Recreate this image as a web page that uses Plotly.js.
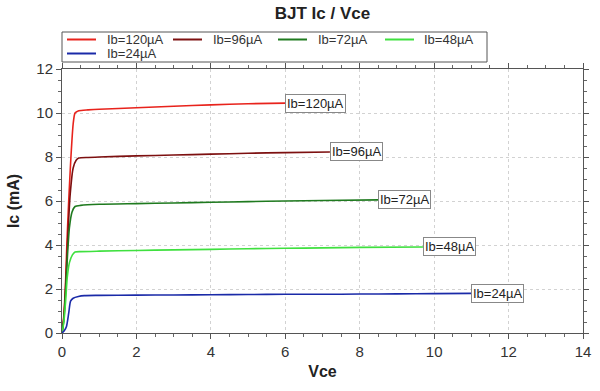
<!DOCTYPE html>
<html><head><meta charset="utf-8">
<script src="https://cdn.plot.ly/plotly-3.0.1.min.js"></script>
<style>body{margin:0;background:#fff}#chart{width:600px;height:391px}</style>
</head><body><div id="chart"></div>
<script>
const seriesNames = ["Ib=120µA", "Ib=96µA", "Ib=72µA", "Ib=48µA", "Ib=24µA"];
const colors = ["#e8231c", "#7d1010", "#1f7a1f", "#3fe03f", "#1a2aa8"];

const vce120 = [0, 0.05, 0.1, 0.13, 0.18, 0.24, 0.3, 0.35, 0.45, 0.7, 1, 2, 3, 4, 5, 6];
const ic120  = [0, 0.8, 2.5, 4.0, 6.0, 8.0, 9.5, 10.0, 10.1, 10.14, 10.17, 10.24, 10.31, 10.37, 10.42, 10.45];

const vce96 = [0, 0.05, 0.1, 0.16, 0.22, 0.3, 0.38, 0.45, 0.7, 1, 2, 3, 4, 5, 6, 7.2];
const ic96  = [0, 0.7, 2.2, 4.5, 6.3, 7.5, 7.85, 7.95, 7.98, 8.0, 8.05, 8.09, 8.13, 8.17, 8.2, 8.23];

const vce72 = [0, 0.05, 0.1, 0.15, 0.2, 0.27, 0.35, 0.5, 1, 2, 3, 4, 5, 6, 7, 8.5];
const ic72  = [0, 0.6, 2.0, 3.6, 4.8, 5.5, 5.75, 5.8, 5.85, 5.88, 5.91, 5.94, 5.97, 6.0, 6.02, 6.05];

const vce48 = [0, 0.05, 0.1, 0.14, 0.2, 0.28, 0.35, 0.5, 1, 2, 3, 4, 5, 6, 7, 8, 9.7];
const ic48  = [0, 0.5, 1.5, 2.5, 3.2, 3.55, 3.68, 3.7, 3.72, 3.75, 3.78, 3.8, 3.83, 3.85, 3.87, 3.89, 3.91];

const vce24 = [0, 0.06, 0.12, 0.18, 0.23, 0.3, 0.44, 0.6, 1, 2, 3, 4, 5, 6, 7, 8, 9, 10, 11];
const ic24  = [0, 0.1, 0.3, 0.9, 1.45, 1.58, 1.66, 1.7, 1.71, 1.72, 1.73, 1.74, 1.75, 1.76, 1.76, 1.77, 1.78, 1.79, 1.8];

const xsAll = [vce120, vce96, vce72, vce48, vce24];
const ysAll = [ic120, ic96, ic72, ic48, ic24];

const FONT = "Liberation Sans, Arial, sans-serif";
const M = {l: 62, r: 17, t: 69, b: 58};
const W = 600, H = 391;
const PW = W - M.l - M.r, PH = H - M.t - M.b;
const px2x = p => (p - M.l) / PW;
const px2y = p => (H - M.b - p) / PH;

const traces = seriesNames.map((n, i) => ({
  x: xsAll[i], y: ysAll[i], name: n, type: "scatter", mode: "lines",
  line: {color: colors[i], width: 1.6, shape: "spline", smoothing: 0.6},
  showlegend: false
}));

const annotations = seriesNames.map((n, i) => ({
  x: xsAll[i][xsAll[i].length - 1], y: ysAll[i][ysAll[i].length - 1],
  xref: "x", yref: "y", text: n, showarrow: false,
  xanchor: "left", yanchor: "middle",
  font: {family: FONT, size: 13, color: "#222"},
  bgcolor: "#ffffff", bordercolor: "#888", borderwidth: 1, borderpad: 1
}));

// custom legend (compact two-row box like the reference)
const shapes = [{
  type: "rect", xref: "paper", yref: "paper",
  x0: px2x(62), x1: px2x(487), y0: px2y(62), y1: px2y(32),
  line: {color: "#555", width: 1}, fillcolor: "#fff", layer: "above"
}];
const legLineX = [67, 173, 278, 385, 67];
const legTextX = [106, 212, 317, 423, 106];
const legRowY = [39.5, 39.5, 39.5, 39.5, 53.5];
seriesNames.forEach((n, i) => {
  shapes.push({type: "line", xref: "paper", yref: "paper",
    x0: px2x(legLineX[i]), x1: px2x(legLineX[i] + 29),
    y0: px2y(legRowY[i]), y1: px2y(legRowY[i]),
    line: {color: colors[i], width: 2}, layer: "above"});
  annotations.push({xref: "paper", yref: "paper", x: px2x(legTextX[i]), y: px2y(legRowY[i]),
    text: n, showarrow: false, xanchor: "left", yanchor: "middle", borderpad: 0,
    font: {family: FONT, size: 13, color: "#333"}});
});

const axisCommon = {
  showline: true, linecolor: "#555", linewidth: 1, mirror: "ticks",
  ticks: "outside", ticklen: 5, tickcolor: "#555",
  showgrid: true, gridcolor: "#d2d2d2", griddash: "dot", gridwidth: 1,
  zeroline: false,
  tickfont: {family: FONT, size: 15, color: "#333"},
  minor: {dtick: 0.5, ticks: "outside", ticklen: 3, tickcolor: "#666", showgrid: false}
};

const layout = {
  width: W, height: H,
  margin: M,
  paper_bgcolor: "#fff", plot_bgcolor: "#fff",
  title: {text: "<b>BJT Ic / Vce</b>", x: 0.5, xref: "paper", xanchor: "center",
          yref: "container", y: 1 - 13 / H, yanchor: "middle",
          font: {family: FONT, size: 17, color: "#222"}},
  xaxis: Object.assign({}, axisCommon, {range: [0, 14], dtick: 2,
          title: {text: "<b>Vce</b>", font: {family: FONT, size: 16, color: "#222"}, standoff: 6}}),
  yaxis: Object.assign({}, axisCommon, {range: [0, 12], dtick: 2,
          title: {text: "<b>Ic (mA)</b>", font: {family: FONT, size: 16, color: "#222"}, standoff: 12}}),
  showlegend: false,
  shapes: shapes,
  annotations: annotations
};

Plotly.newPlot("chart", traces, layout, {staticPlot: true});
</script></body></html>
